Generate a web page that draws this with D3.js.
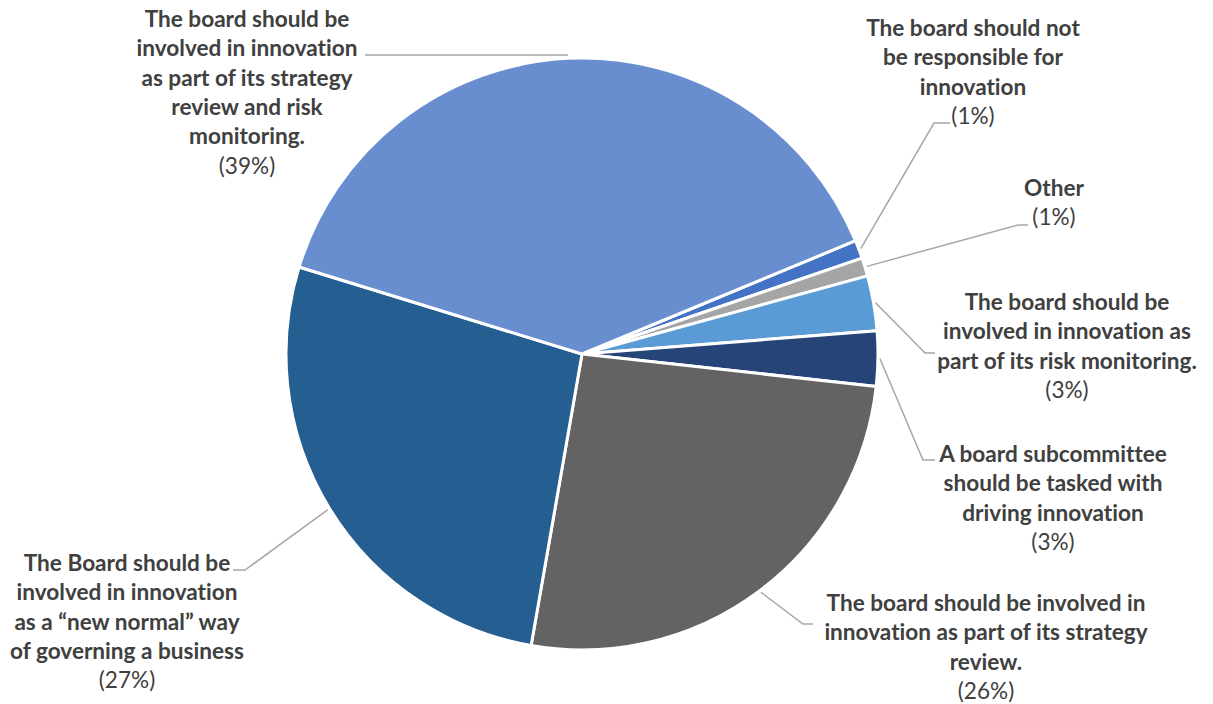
<!DOCTYPE html>
<html>
<head>
<meta charset="utf-8">
<script src="https://cdn.jsdelivr.net/npm/d3@7"></script>
<style>
  body { margin: 0; background: #fff; }
  svg { display: block; }
  text { font-family: Lato, "Open Sans", sans-serif; fill: #404040; font-variant-ligatures: none; font-feature-settings: "liga" 0; }
</style>
</head>
<body>
<svg id="chart" width="1213" height="704"></svg>
<script>
// Survey answers, in drawing order (clockwise from the first slice)
const categories = [
  "The board should not be responsible for innovation",
  "Other",
  "The board should be involved in innovation as part of its risk monitoring.",
  "A board subcommittee should be tasked with driving innovation",
  "The board should be involved in innovation as part of its strategy review.",
  "The Board should be involved in innovation as a “new normal” way of governing a business",
  "The board should be involved in innovation as part of its strategy review and risk monitoring."
];
// Share of respondents, percent
const shares = [1, 1, 3, 3, 26, 27, 39];
// Wrapped label text for each slice
const labelLines = [
  ["The board should not", "be responsible for", "innovation"],
  ["Other"],
  ["The board should be", "involved in innovation as", "part of its risk monitoring."],
  ["A board subcommittee", "should be tasked with", "driving innovation"],
  ["The board should be involved in", "innovation as part of its strategy", "review."],
  ["The Board should be", "involved in innovation", "as a “new normal” way", "of governing a business"],
  ["The board should be", "involved in innovation", "as part of its strategy", "review and risk", "monitoring."]
];
const sliceColors = ["#4472C4", "#A5A5A5", "#5B9BD5", "#264478", "#636363", "#255E91", "#698ED0"];

// Label placement: text centre x, first baseline y, leader elbow and end
const labelLayout = [
  { x: 973,  y: 36,  elbow: [934, 123], end: [950, 123] },
  { x: 1054, y: 196, elbow: [1018, 225], end: [1028, 225] },
  { x: 1067, y: 310, elbow: [925, 353], end: [935, 353] },
  { x: 1053, y: 462, elbow: [923, 460], end: [935, 460] },
  { x: 986,  y: 611, elbow: [803, 624], end: [813, 624] },
  { x: 127,  y: 571, elbow: [245, 570], end: [233, 570] },
  { x: 247,  y: 27,  elbow: null,       end: [365, 55] }
];

const cx = 582, cy = 354, radius = 296;
const lineHeight = 29.3;
const firstAngle = 67.5 * Math.PI / 180;

const svg = d3.select("#chart");
const g = svg.append("g").attr("transform", `translate(${cx},${cy})`);

const pie = d3.pie()
  .sort(null)
  .value(d => d)
  .startAngle(firstAngle)
  .endAngle(firstAngle + 2 * Math.PI);

const arcs = pie(shares);
const arc = d3.arc().innerRadius(0).outerRadius(radius);
const edgeArc = d3.arc().innerRadius(radius + 2).outerRadius(radius + 2);

g.selectAll("path.slice")
  .data(arcs)
  .join("path")
  .attr("class", "slice")
  .attr("d", arc)
  .attr("fill", (d, i) => sliceColors[i])
  .attr("stroke", "#fff")
  .attr("stroke-width", 3)
  .attr("stroke-linejoin", "round");

// Leader lines from the slice edge to the label
const lineGen = d3.line();
svg.append("g")
  .selectAll("path")
  .data(arcs)
  .join("path")
  .attr("d", (d, i) => {
    const c = edgeArc.centroid(d);
    const start = [cx + c[0], cy + c[1]];
    const L = labelLayout[i];
    const pts = L.elbow ? [start, L.elbow, L.end] : [[start[0], L.end[1]], L.end];
    return lineGen(pts);
  })
  .attr("fill", "none")
  .attr("stroke", "#A6A6A6")
  .attr("stroke-width", 1.5);

// Category labels with the percentage underneath
const labels = svg.append("g")
  .selectAll("text")
  .data(arcs)
  .join("text")
  .attr("text-anchor", "middle")
  .style("font-size", "22.6px");

labels.each(function (d, i) {
  const t = d3.select(this);
  const L = labelLayout[i];
  labelLines[i].forEach((line, k) => {
    t.append("tspan")
      .attr("x", L.x)
      .attr("y", L.y + k * lineHeight)
      .style("font-weight", 700)
      .text(line);
  });
  t.append("tspan")
    .attr("x", L.x)
    .attr("y", L.y + labelLines[i].length * lineHeight)
    .style("font-weight", 400)
    .text(`(${shares[i]}%)`);
});
</script>
</body>
</html>
